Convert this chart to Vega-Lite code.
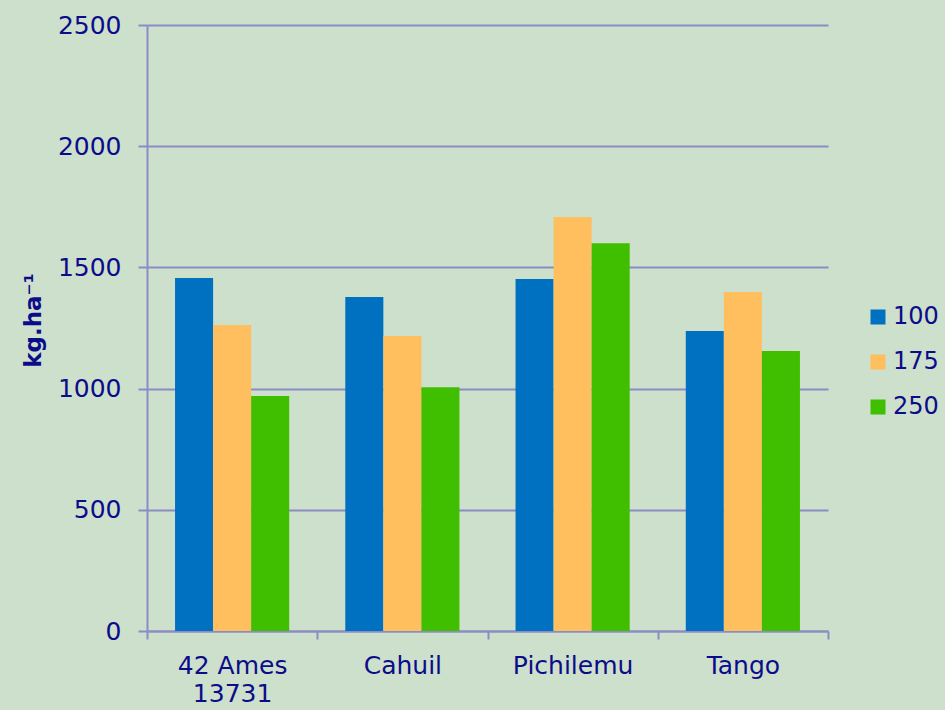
{
  "$schema": "https://vega.github.io/schema/vega-lite/v6.json",
  "autosize": {"type": "none"},
  "padding": {"left": 147, "top": 25, "right": 117, "bottom": 79},
  "width": 681,
  "height": 606,
  "background": "#CCE0CC",
  "config": {
    "view": {"stroke": null},
    "font": "DejaVu Sans",
    "axis": {"labelFont": "DejaVu Sans", "titleFont": "DejaVu Sans", "labelColor": "#0C0C8A", "titleColor": "#0C0C8A", "domainColor": "#8C8CC4", "tickColor": "#8C8CC4", "gridColor": "#8C8CC4", "domainWidth": 2, "tickWidth": 2, "gridWidth": 2},
    "legend": {"labelFont": "DejaVu Sans", "labelColor": "#0C0C8A"}
  },
  "data": {"values": [
    {"cultivar": "42 Ames 13731", "dose": "100", "yield": 1456},
    {"cultivar": "42 Ames 13731", "dose": "175", "yield": 1262},
    {"cultivar": "42 Ames 13731", "dose": "250", "yield": 969},
    {"cultivar": "Cahuil", "dose": "100", "yield": 1378},
    {"cultivar": "Cahuil", "dose": "175", "yield": 1217},
    {"cultivar": "Cahuil", "dose": "250", "yield": 1006},
    {"cultivar": "Pichilemu", "dose": "100", "yield": 1452},
    {"cultivar": "Pichilemu", "dose": "175", "yield": 1708},
    {"cultivar": "Pichilemu", "dose": "250", "yield": 1600},
    {"cultivar": "Tango", "dose": "100", "yield": 1238},
    {"cultivar": "Tango", "dose": "175", "yield": 1398},
    {"cultivar": "Tango", "dose": "250", "yield": 1155}
  ]},
  "mark": {"type": "bar"},
  "encoding": {
    "x": {
      "field": "cultivar", "type": "nominal", "sort": null,
      "scale": {"paddingInner": 0, "paddingOuter": 0},
      "axis": {"title": null, "labelAngle": 0, "labelFontSize": 25, "tickSize": 8, "tickBand": "extent", "labelPadding": 14,
        "labelExpr": "datum.label == '42 Ames 13731' ? ['42 Ames', '13731'] : datum.label", "labelLineHeight": 28}
    },
    "xOffset": {"field": "dose", "type": "nominal", "scale": {"paddingInner": 0, "paddingOuter": 0.737}},
    "y": {
      "field": "yield", "type": "quantitative",
      "scale": {"domain": [0, 2500], "nice": false},
      "axis": {"title": "kg.ha⁻¹", "format": "d", "values": [0, 500, 1000, 1500, 2000, 2500], "labelFontSize": 25, "tickSize": 9, "labelPadding": 17,
        "titleFontSize": 23, "titleFontWeight": "bold", "titlePadding": 12, "titleY": 295}
    },
    "color": {
      "field": "dose", "type": "nominal",
      "scale": {"domain": ["100", "175", "250"], "range": ["#0070C0", "#FFBF5F", "#40BF00"]},
      "legend": {"title": null, "orient": "none", "legendX": 719, "legendY": 280, "symbolType": "square", "symbolSize": 225, "symbolStrokeWidth": 0, "labelFontSize": 24, "rowPadding": 21, "labelOffset": 3}
    }
  }
}
